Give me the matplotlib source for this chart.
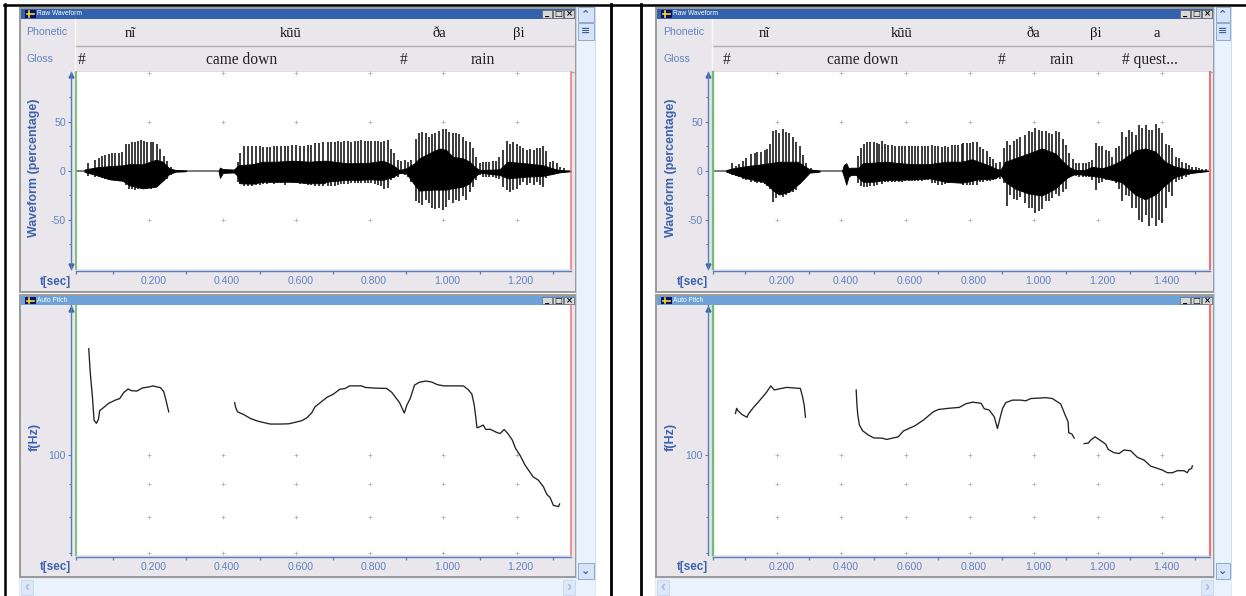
import matplotlib
matplotlib.use("Agg")
import matplotlib.pyplot as plt
from matplotlib.patches import Rectangle
from matplotlib.transforms import ScaledTranslation
from matplotlib.ticker import NullFormatter, FixedLocator

# ---------- data: first utterance ----------
L_spike_t = [.034,.052,.062,.071,.080,.089,.098,.107,.116,.125,.135,.143,.152,.160,.169,.177,.186,.194,.203,.211,.220,.230,.239,.248,.259,
 .440,.446,.458,.468,.478,.490,.500,.510,.519,.528,.538,.548,.558,.568,.578,.588,.599,.610,.620,.631,.641,.651,.661,.672,
 .686,.695,.704,.713,.722,.731,.740,.749,.759,.768,.777,.786,.795,.804,.813,.822,.831,.840,.849,
 .858,.867,.877,.886,.895,.904,.913,.925,.934,.943,.952,.961,.970,.979,.988,.999,1.008,1.017,1.026,1.035,1.044,1.053,1.062,1.072,1.081,1.090,1.099,
 1.108,1.117,1.126,1.135,1.144,1.153,1.162,1.173,1.182,1.191,1.200,1.209,1.218,1.228,1.237,1.246,1.255,1.264,1.271,1.280,1.291,1.300,1.309,1.318,1.330]
L_spike_top = [8,11,13,15,16,17,18,18,18,19,28,28,30,30,31,32,31,30,30,30,28,22,15,10,4.5,
 9.5,18,25,25,25,25,25,24,24,24,26,26,26,26,25,27,27,26,26,27,27,29,29,30,
 30,30,30,30.5,30,31,31,30,31,31,31.5,31,31,31,31,31,30,31,32,
 22,18,11,10.5,11,9.5,11,33,39,40,39,35,38,39,41,42.5,43,40,38.5,38.5,38,35,31,30,23,14,8.5,
 9.5,9.5,9.5,10.5,10.5,14,21,31,28,30,27.5,25,23,21,22,21,23,23,25,20,9.5,10.5,8,4.5,3]
L_spike_bot = [-5,-6,-6,-7,-8,-9,-9,-9.5,-10,-10,-14,-18,-18.5,-19,-18.5,-18.5,-18,-18,-18,-17.5,-16,-13,-10,-8,-4,
 -11,-13,-15,-15,-15,-14,-14,-13,-13,-12,-13,-12,-12,-14,-11,-12,-12,-13,-13,-14,-14,-15,-15,-15,
 -15,-15,-15,-14,-13,-13,-13,-12,-12,-12,-12,-12,-12,-12,-13,-14,-15,-18,-17,
 -9,-7,-6,-3,-4,-6,-11,-31,-33,-35,-30,-33,-38,-39,-38,-40,-37,-30,-33,-30,-31,-26,-30,-21,-16,-9,-4,
 -6,-6,-6,-6,-7,-8,-16,-19,-21,-19,-18,-14,-11,-14,-12.5,-14,-11,-14,-16,-7,-4,-4,-2.5,-2.5,-2]
L_core_t1 = [.023,.054,.091,.127,.145,.181,.218,.236,.254,.272,.290,.300]
L_core_top1 = [1.5,3.7,5,5.8,7,6.8,11.5,9.5,2.7,1,.8,.5]
L_core_bot1 = [-1,-4,-8.5,-10,-14.5,-17.7,-16,-10,-3,-.7,-.5,-.2]
L_core_t2 = [.388,.392,.400,.430,.440,.445,.481,.508,.544,.590,.635,.676,.681,.736,.772,.799,.836,.863,.881,.899,.922,.935,.972,.990,1.008,1.026,1.053,1.072,1.085,1.099,1.153,1.176,1.226,1.271,1.298,1.317,1.348]
L_core_top2 = [0,3.5,2,1.5,5,6,7,9.5,9.5,10.5,9.5,10.5,10.5,8,8,8.5,10.5,6,1,2.7,8,13,20,23,21.5,14.5,13,9.5,4.4,1,1.7,9.5,7.8,6,2.7,1,0]
L_core_bot2 = [0,-7,-2,-1.5,-5,-12.5,-13,-11,-11,-11,-12.5,-12.5,-11,-9,-9,-8.5,-9,-6,-2,-2.4,-14,-20,-19,-19,-19,-17.5,-16,-12.5,-6,-1.7,-4,-7.5,-5.8,-5,-3,-1.4,-.3]
L_pitch_t1 = [.0347,.039,.0447,.0492,.0555,.061,.0645,.0755,.089,.107,.119,.130,.142,.150,.166,.180,.198,.210,.221,.230,.239,.245,.2525]
L_pitch_f1 = [147.5,134.8,123.8,113.7,112.4,114,117.7,119.1,120.9,122.3,123,125.7,127.4,126.6,126.4,127.8,128.3,128.8,128.3,128,126.1,122.3,117.2]
L_pitch_t2 = [.432,.4347,.440,.456,.475,.497,.529,.556,.579,.597,.615,.629,.642,.651,.663,.683,.701,.718,.733,.745,.778,.787,.810,.846,.860,.881,.894,.901,.910,.922,.935,.953,.969,.984,1.002,1.055,1.069,1.078,1.084,1.088,1.092,1.100,1.109,1.116,1.128,1.146,1.155,1.166,1.177,1.188,1.197,1.209,1.223,1.245,1.259,1.273,1.282,1.291,1.300,1.314,1.317]
L_pitch_f2 = [121.2,119.1,117.2,116.1,114.4,113.2,112.1,112.1,112.2,112.8,113.5,114.7,116.8,119.4,120.9,123.5,125,127.2,127.6,128.8,128.8,128.1,127.8,127.6,125.8,121.2,116.7,120.1,123,129.2,130.5,131.1,130.6,129.4,128.8,128.8,126.9,125,120.6,115.8,110.6,111,111.7,109.9,110,108.7,108.3,109.9,108.1,105.8,102.6,100.1,96.5,92.5,91.4,89.2,86.8,85.8,83.4,83,83.8]

# ---------- data: second utterance ----------
R_spike_t = [.060,.071,.081,.093,.104,.119,.130,.138,.148,.161,.169,.177,.186,.196,.206,.217,.227,.238,.249,.259,.270,.280,.290,.306,
 .453,.461,.469,.479,.489,.500,.510,.518,.527,.536,.546,.557,.567,.578,.588,.598,.609,.619,.629,.640,.650,.660,.671,.681,.692,.702,.712,.723,.733,.743,.754,.764,.775,
 .780,.790,.800,.811,.821,.831,.842,.852,.863,.873,.883,.894,.905,.915,.926,.936,.947,.957,.972,.983,.993,1.003,1.016,1.026,1.037,1.047,1.057,1.068,1.078,1.089,1.099,1.109,1.120,1.130,1.140,1.151,1.161,1.171,1.182,
 1.192,1.203,1.213,1.223,1.234,1.244,1.254,1.265,1.275,1.286,1.296,1.306,1.317,1.327,1.337,1.348,1.358,1.368,1.379,1.389,1.400,1.410,1.420,1.431,1.441,1.451,1.462,1.472,1.483,1.493,1.503,1.514,1.524,1.534]
R_spike_top = [8,5,7,10.5,13,17,18,19,19,21,22,28,41,42,39,43,40,38.5,35,30,25,16,8,3,
 15,23,27.5,30,30,29.5,29,28,31,27.5,26.5,26.5,25.5,25.5,25.5,25,25,25,25,25,26,26,26,26.5,25.5,25.5,24,25,24,26.5,26.5,27,27.5,
 29,29,28.5,30,30,24,22,20,14.5,12,8,9.5,23,31,26.5,31,33,35,37,40.5,39.5,43.5,42,40.5,40.5,38.5,38,40.5,39.5,33,26.5,18,12,8.5,8.5,8,8.5,9.5,11,
 29,25.5,25,21,20,14.5,23,25.5,40,35,42,40,37,47,44,47,42,42,48,44,38.5,28,26.5,23,14.5,13,9.5,8,6,4.4,4,3,2,1.7]
R_spike_bot = [-4,-5,-6,-8,-9,-11,-11.5,-12,-12,-13,-15,-18,-32,-28,-25,-27,-25,-22,-21,-19,-13,-7.5,-5,-1.5,
 -12.5,-15,-16,-16,-15.5,-15,-14.5,-11,-13,-11,-11,-11,-11,-11,-11,-10.5,-10.5,-10.5,-10,-10,-10,-9.5,-9.5,-12,-12.5,-14,-14,-13,-12.5,-11,-12,-12.5,-12.5,
 -14,-14,-14,-14,-14,-11,-11,-10,-10,-9,-8.5,-8,-12,-36,-25,-29,-30,-27,-33,-38,-38,-43,-41,-39,-31,-31,-28,-23,-26,-21,-18,-7.5,-4,-5,-6,-6,-6,-6,-9,
 -19.5,-12.5,-11,-9,-9,-8.5,-12.5,-18,-31,-25,-26,-38,-38,-50,-52,-45,-56,-48,-56,-50,-53,-38,-21,-26,-11,-9.5,-8.5,-6,-4,-2.7,-2,-1.7,-1,-.7]
R_core_t1 = [.041,.062,.104,.156,.176,.187,.207,.238,.264,.280,.301,.332]
R_core_top1 = [1,2.7,5,7,8,8.5,9.5,9.5,9.5,6,1.7,.4]
R_core_bot1 = [-.7,-3,-7.5,-11,-16,-20,-24,-21,-14,-9,-1.7,-.7]
R_core_t2 = [.402,.407,.415,.422,.430,.446,.451,.467,.498,.539,.581,.622,.674,.726,.775,.807,.827,.858,.879,.895,.910,.941,.983,1.024,1.066,1.086,1.107,1.128,1.159,1.180,1.211,1.242,1.273,1.315,1.346,1.377,1.408,1.439,1.480,1.543]
R_core_top2 = [0,6,8,3,3.4,3.4,2.7,8,8.5,9.5,8,7,7,9.5,9.5,12,9.5,6,2.7,1,9.5,13,18,23,18,11,4.4,1,1,4.4,2.7,6,11,21,23,20,9.5,4.4,1.7,0]
R_core_bot2 = [0,-5,-14,-6,-4,-4,-6.5,-11,-11,-9,-9,-8.5,-7.5,-11,-12,-10,-8.5,-8,-7.5,-4,-11,-18,-23,-25,-18,-11.5,-6,-3,-4,-5,-6.5,-9,-11.5,-24,-29,-24,-14.5,-6,-2.4,0]
R_pitch_t1 = [.070,.0735,.0777,.090,.1056,.110,.126,.142,.166,.180,.191,.209,.230,.272,.279,.284,.288]
R_pitch_f1 = [116.5,118.7,117.7,116.1,114.9,116.2,119.1,121.6,125.7,128.8,126.9,127.5,128.1,127.6,123.8,120.1,114.9]
R_pitch_t2 = [.446,.448,.451,.456,.466,.484,.500,.526,.541,.577,.593,.629,.655,.686,.702,.733,.767,.788,.809,.835,.845,.860,.876,.886,.895,.902,.912,.933,.959,.974,.990,1.037,1.057,1.083,1.097,1.106,1.108,1.118,1.125]
R_pitch_f2 = [126.9,120.9,115.8,111.7,109.4,107.7,106.6,106.5,106,107,109.3,111.4,113.7,117.2,118.2,118.7,119.1,120.7,121.4,120.9,118.5,118,115.1,110.3,115.1,118.7,121.2,122.3,122.3,122,123,123.4,123,120.6,115.8,113,108.6,108.1,106.5]
R_pitch_t3 = [1.156,1.169,1.177,1.190,1.208,1.223,1.231,1.249,1.265,1.280,1.301,1.322,1.343,1.363,1.384,1.400,1.415,1.431,1.446,1.467,1.477,1.483,1.491,1.493]
R_pitch_f3 = [104.4,104.6,105.8,107,105.5,104.2,102.2,101,100.7,102,101.7,99.3,98.3,96.2,95.4,94.8,93.9,93.9,94.6,94.6,93.9,95,95.4,96.3]

# ---------- labels ----------
L_phonetic = ["nĩ", "kūū", "ða", "βi"]
L_gloss = ["#", "came down", "#", "rain"]
R_phonetic = ["nĩ", "kūū", "ða", "βi", "a"]
R_gloss = ["#", "came down", "#", "rain", "# quest..."]
wave_ticks = [-50, 0, 50]
wave_minor = [-75, -25, 25, 75]
pitch_ticks = [100]
pitch_minor = [70, 80, 90]

BLUE = "#3F62AE"
TICK = "#6482BE"
PANEL = "#E9E7EC"
W, H = 1246, 596
plt.rcParams["font.family"] = ["Liberation Sans", "DejaVu Sans"]
plt.rcParams["axes.unicode_minus"] = False
SERIF = ["Liberation Serif", "DejaVu Serif"]

fig = plt.figure(figsize=(W / 100, H / 100), dpi=100, facecolor="white")
bg = fig.add_axes([0, 0, 1, 1], zorder=0)
bg.set_xlim(0, W)
bg.set_ylim(H, 0)
bg.axis("off")


def box(x0, y0, x1, y1, fc, ec="none", lw=0.0, z=1):
    bg.add_patch(Rectangle((x0, y0), x1 - x0, y1 - y0, fc=fc, ec=ec, lw=lw, zorder=z))


def window_bar(x0, x1, y0, y1, color, title):
    box(x0, y0, x1, y1, color, z=2)
    box(x0 + 4, y0 + 1, x0 + 15, y1 - 1, "#10106A", z=3)
    bg.plot([x0 + 6, x0 + 13], [(y0 + y1) / 2] * 2, color="#F0E020", lw=1.2, zorder=4)
    bg.plot([x0 + 8, x0 + 8], [y0 + 2, y1 - 2], color="#F0E020", lw=1.2, zorder=4)
    bg.text(x0 + 16, (y0 + y1) / 2, title, color="white", fontsize=4.8, va="center", zorder=4)
    for i, glyph in enumerate(["_", "□", "×"]):
        bx = x1 - 33 + i * 11
        box(bx, y0 + 1, bx + 10, y1 - 1, "#D8D8D8", "#555555", 0.4, z=3)
        bg.text(bx + 5, (y0 + y1) / 2, glyph, fontsize=6, fontweight="bold", ha="center",
                va="center", zorder=4, family=["DejaVu Sans"])


def chrome(wx0, wx1, sbx1, plot_x0, plot_x1):
    # outer windows
    box(wx0, 8, wx1, 292, PANEL, "#9A9A9A", 1.4)
    box(wx0, 295, wx1, 577, PANEL, "#9A9A9A", 1.4)
    window_bar(wx0 + 1, wx1 - 1, 9, 18.5, "#3362AC", "Raw Waveform")
    window_bar(wx0 + 1, wx1 - 1, 296, 305, "#6DA1D8", "Auto Pitch")
    for y in (45.5, 71.5):
        bg.plot([plot_x0 - 1, plot_x1 + 3], [y, y], color="#AFAFAF", lw=1, zorder=2)
    bg.plot([plot_x0 - 1, plot_x0 - 1], [19, 71], color="#F8F8F8", lw=1, zorder=2)
    # scroll bars
    box(wx1, 7, sbx1, 578, "#EAF2FE", "#C8D8EE", 0.6)
    for y0, y1, mark in [(7, 22, "⌃"), (22.5, 40, "≡"), (563, 579, "⌄")]:
        box(wx1 + 2, y0, sbx1 - 1, y1, "#D5E4F8", "#8FAAD0", 0.7, z=2)
        bg.text((wx1 + 1 + sbx1) / 2, (y0 + y1) / 2, mark, fontsize=8, ha="center", va="center",
                color="#3F5F90", zorder=3, family=["DejaVu Sans"], fontweight="bold")
    box(wx0 - 1, 578, sbx1, 596, "#EAF2FE", "#D5E4F4", 0.5)
    box(wx0 + 1, 580, wx0 + 13, 595, "#DCE8F8", "#C5D6EC", 0.6, z=2)
    box(wx1 - 13, 580, wx1 - 1, 595, "#DCE8F8", "#C5D6EC", 0.6, z=2)
    bg.text(wx0 + 7, 587, "‹", fontsize=11, color="#A8BEDC", ha="center", va="center", zorder=3, fontweight="bold")
    bg.text(wx1 - 7, 587, "›", fontsize=11, color="#A8BEDC", ha="center", va="center", zorder=3, fontweight="bold")


def style_axes(ax, tmax):
    ax.set_xlim(0, tmax)
    ax.set_facecolor("white")
    for s in ("top", "right"):
        ax.spines[s].set_visible(False)
    for s in ("left", "bottom"):
        ax.spines[s].set_color("#5A7CBE")
        ax.spines[s].set_linewidth(1.0)
    ax.spines["left"].set_position(("outward", 3.6))
    ax.spines["bottom"].set_position(("outward", 1.6))
    maj = [i * 0.2 for i in range(1, int(tmax / 0.2) + 1)]
    minr = [0] + [0.1 + i * 0.2 for i in range(int(tmax / 0.2) + 1) if 0.1 + i * 0.2 < tmax]
    ax.xaxis.set_major_locator(FixedLocator(maj))
    ax.xaxis.set_minor_locator(FixedLocator(minr))
    ax.set_xticklabels([f"{m:.3f}" for m in maj])
    ax.tick_params(axis="x", which="major", length=0, labelsize=7.6, labelcolor=TICK, pad=3.6)
    ax.tick_params(axis="x", which="minor", length=2, color="#5A7CBE", width=0.9)
    ax.tick_params(axis="y", which="major", length=2.5, labelsize=7.6, labelcolor=TICK,
                   color="#5A7CBE", pad=1.2, width=0.8)
    ax.tick_params(axis="y", which="minor", length=1.5, color="#5A7CBE", width=0.8)
    ax.yaxis.set_minor_formatter(NullFormatter())
    shift = ScaledTranslation(4 / 100, 0, fig.dpi_scale_trans)
    for lab in ax.get_xticklabels():
        lab.set_transform(lab.get_transform() + shift)


def edge_lines(ax, tmax, lw):
    ax.axvline(0, color="#72BE72", lw=lw + 0.2, clip_on=False, zorder=5)
    ax.axvline(tmax, color="#F27272", lw=lw, clip_on=False, zorder=5)


def grid_marks(ax, tmax, levels):
    ts = [i * 0.2 for i in range(1, int(tmax / 0.2) + 1)]
    for lv in levels:
        ax.plot(ts, [lv] * len(ts), ls="none", marker="+", ms=2.6, mew=0.5, color="#A8A8A8",
                clip_on=False, zorder=1)


def panel(px0, px1, tmax, spike, cores, pitches, phon, phon_x, gloss, gloss_x, lx, ax_x, edge_lw):
    # waveform
    ax = fig.add_axes([px0 / W, 1 - 269 / H, (px1 - px0) / W, (269 - 72) / H], zorder=2)
    ax.set_ylim(-100, 101)
    ax.set_yticks(wave_ticks)
    ax.set_yticks(wave_minor, minor=True)
    style_axes(ax, tmax)
    grid_marks(ax, tmax, [100, 50, -50])
    ax.plot([0, tmax], [0, 0], color="#707070", lw=1.3, zorder=2)
    ax.vlines(spike[0], spike[2], spike[1], color="#1A1A1A", lw=1.2, zorder=3)
    for t, top, bot in cores:
        ax.fill_between(t, bot, top, color="black", lw=0.6, zorder=4)
    edge_lines(ax, tmax, edge_lw)

    # pitch
    ap = fig.add_axes([px0 / W, 1 - 555 / H, (px1 - px0) / W, (555 - 305) / H], zorder=2)
    ap.set_yscale("log")
    ap.set_ylim(69.6, 172.9)
    ap.yaxis.set_major_locator(FixedLocator(pitch_ticks))
    ap.yaxis.set_minor_locator(FixedLocator(pitch_minor))
    ap.set_yticklabels([str(v) for v in pitch_ticks])
    style_axes(ap, tmax)
    grid_marks(ap, tmax, pitch_ticks + pitch_minor)
    for t, f in pitches:
        ap.plot(t, f, color="#222222", lw=0.95, zorder=3)
    edge_lines(ap, tmax, edge_lw)

    # spine arrows
    bg.plot([ax_x], [75], marker="^", ms=3.5, color=BLUE, zorder=6)
    bg.plot([ax_x], [266], marker="v", ms=3.5, color=BLUE, zorder=6)
    bg.plot([ax_x], [309], marker="^", ms=3.5, color=BLUE, zorder=6)

    # text
    for s, x in zip(phon, phon_x):
        bg.text(x, 33.5, s, family=SERIF, fontsize=10.5, ha="center", va="center", color="#111111", zorder=6)
    for s, x in zip(gloss, gloss_x):
        bg.text(x, 60, s, family=SERIF, fontsize=11.2, ha="center", va="center", color="#222222", zorder=6)
    bg.text(lx, 32, "Phonetic", fontsize=7.6, color=TICK, va="center", zorder=6)
    bg.text(lx, 58.5, "Gloss", fontsize=7.6, color=TICK, va="center", zorder=6)
    bg.text(lx + 8, 168, "Waveform (percentage)", fontsize=9, fontweight="bold", color=BLUE,
            rotation=90, ha="center", va="center", zorder=6)
    bg.text(lx + 8, 437, "f(Hz)", fontsize=9, fontweight="bold", color=BLUE,
            rotation=90, ha="center", va="center", zorder=6)
    for y in (282, 567):
        bg.text(ax_x - 31, y, "t[sec]", fontsize=8.4, fontweight="bold", color=BLUE, va="center", zorder=6)


# page frame
for x in (5.2, 610.5, 640.5):
    bg.plot([x, x], [4, H], color="black", lw=2 if x > 6 else 1.8, zorder=1)
bg.plot([4, 1246], [5, 5], color="black", lw=1.8, zorder=1)

chrome(20, 576, 595, 76, 571)
chrome(656, 1214, 1231, 713, 1210)

panel(76, 571, 1.348,
      (L_spike_t, L_spike_top, L_spike_bot),
      [(L_core_t1, L_core_top1, L_core_bot1), (L_core_t2, L_core_top2, L_core_bot2)],
      [(L_pitch_t1, L_pitch_f1), (L_pitch_t2, L_pitch_f2)],
      L_phonetic, [130, 291, 439, 519], L_gloss, [82, 241.5, 404, 482.5], 26.5, 71, 1.1)
panel(713, 1210, 1.548,
      (R_spike_t, R_spike_top, R_spike_bot),
      [(R_core_t1, R_core_top1, R_core_bot1), (R_core_t2, R_core_top2, R_core_bot2)],
      [(R_pitch_t1, R_pitch_f1), (R_pitch_t2, R_pitch_f2), (R_pitch_t3, R_pitch_f3)],
      R_phonetic, [764, 901.5, 1033.5, 1095.5, 1156.5], R_gloss, [727, 863, 1002, 1061.5, 1149.5], 663, 708, 1.5)

fig.savefig("out.png", dpi=100, facecolor="white")
